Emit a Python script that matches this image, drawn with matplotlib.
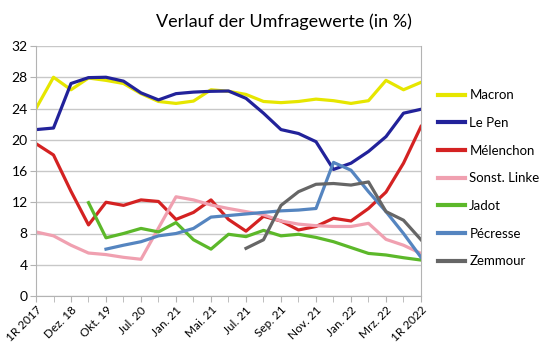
import numpy as np
import matplotlib
matplotlib.use("Agg")
import matplotlib.pyplot as plt

plt.rcParams['font.family'] = ['Lato', 'DejaVu Sans']

nan = np.nan
tick_labels = ["1R 2017", "Dez. 18", "Okt. 19", "Jul. 20", "Jan. 21", "Mai. 21",
               "Jul. 21", "Sep. 21", "Nov. 21", "Jan. 22", "Mrz. 22", "1R 2022"]

macron = [24.0, 28.0, 26.4, 27.9, 27.6, 27.2, 25.9, 24.9, 24.65, 24.95, 26.4, 26.2,
          25.8, 24.9, 24.75, 24.9, 25.2, 25.0, 24.65, 25.0, 27.6, 26.4, 27.35]
le_pen = [21.3, 21.5, 27.2, 27.95, 28.0, 27.5, 26.0, 25.1, 25.9, 26.1, 26.2, 26.24,
          25.3, 23.4, 21.3, 20.8, 19.75, 16.2, 17.0, 18.5, 20.4, 23.4, 23.9]
melenchon = [19.5, 18.05, 13.4, 9.1, 12.0, 11.6, 12.3, 12.1, 9.8, 10.7, 12.3, 9.8,
             8.3, 10.2, 9.6, 8.45, 8.9, 9.95, 9.6, 11.2, 13.3, 17.0, 21.7]
linke = [8.2, 7.7, 6.5, 5.5, 5.3, 4.95, 4.7, 8.7, 12.7, 12.3, 11.65, 11.2,
         10.8, 10.4, 9.6, 9.2, 9.0, 8.9, 8.9, 9.3, 7.25, 6.5, 5.45]
jadot = [nan, nan, nan, 11.95, 7.45, 8.0, 8.65, 8.2, 9.4, 7.2, 6.0, 7.9,
         7.6, 8.4, 7.7, 7.9, 7.5, 6.95, 6.2, 5.45, 5.25, 4.9, 4.6]
pecresse = [nan, nan, nan, nan, 6.0, 6.5, 6.95, 7.7, 8.0, 8.65, 10.1, 10.3,
            10.5, 10.7, 10.9, 11.0, 11.2, 17.1, 16.1, 13.35, 10.8, 8.0, 4.95]
zemmour = [nan] * 12 + [6.1, 7.2, 11.6, 13.35, 14.3, 14.4, 14.2, 14.6, 10.8, 9.7, 7.2]

series = [
    ("Macron", macron, "#e6e600"),
    ("Le Pen", le_pen, "#22229a"),
    ("Mélenchon", melenchon, "#d42222"),
    ("Sonst. Linke", linke, "#f0a0b0"),
    ("Jadot", jadot, "#5cb82a"),
    ("Pécresse", pecresse, "#5585c0"),
    ("Zemmour", zemmour, "#666666"),
]

fig = plt.figure(figsize=(5.5, 3.47), dpi=100)
ax = fig.add_axes([36/550, 1-296/347, (421-36)/550, 250/347])

x = np.arange(len(macron))
for name, vals, col in series:
    ax.plot(x, vals, color=col, lw=2.3, label=name)

ax.set_xlim(0, len(macron) - 1)
ax.set_ylim(0, 32)
ax.set_yticks(np.arange(0, 33, 4))
ax.set_xticks(x, minor=True)
ax.set_xticks(x[::2])
ax.set_xticklabels(tick_labels, rotation=45, ha='right', va='top',
                   rotation_mode='anchor', fontsize=8.5)
ax.tick_params(axis='x', which='both', length=4, color='#b3b3b3', pad=2)
ax.tick_params(axis='y', length=4, color='#b3b3b3', labelsize=10, pad=2)
ax.grid(axis='y', color='#c8c8c8', lw=1)
ax.set_axisbelow(True)
for s in ['left', 'bottom', 'right']:
    ax.spines[s].set_color('#b3b3b3')
ax.spines['top'].set_visible(False)

fig.text(284/550, 1-22/347, "Verlauf der Umfragewerte (in %)", ha='center',
         va='center', fontsize=13)

leg = fig.legend(loc='upper left', bbox_to_anchor=(433/550, 1-84/347),
                 frameon=False, fontsize=9.5, handlelength=2.0,
                 handletextpad=0.35, labelspacing=1.19, borderaxespad=0)
for l in leg.get_lines():
    l.set_linewidth(3)

fig.savefig("out.png", dpi=100)
